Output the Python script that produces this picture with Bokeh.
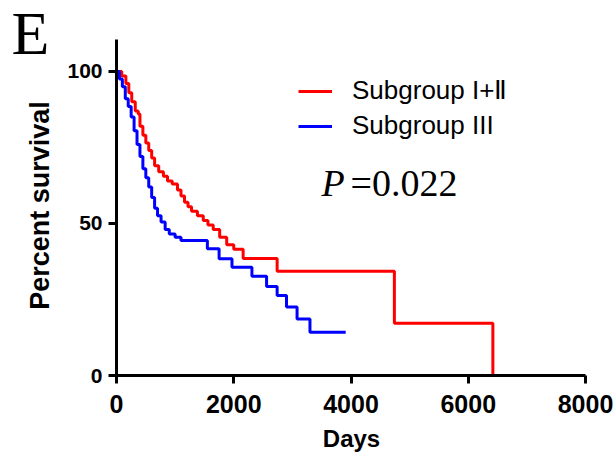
import math
from bokeh.plotting import figure
from bokeh.models import FixedTicker, Range1d, Legend, LegendItem, Label
from bokeh.embed import file_html
from bokeh.resources import INLINE

# Kaplan-Meier step data (days, percent survival)
red_days = [0, 90, 160, 210, 260, 320, 370, 400, 450, 500, 550, 600, 650, 720, 800,
            870, 950, 1040, 1100, 1160, 1220, 1280, 1380, 1480, 1560, 1650, 1760,
            1880, 2000, 2160, 2740, 4740, 6420]
red_surv = [100, 98.5, 96, 93, 90, 87, 86, 82, 79, 76.5, 74, 71.5, 69, 67, 65.5,
            64, 63, 61, 59, 57, 55.5, 54, 52.5, 51, 49.5, 48, 45.5,
            43, 41.5, 38.5, 34.3, 17.2, 0]

blue_days = [0, 50, 100, 150, 200, 250, 300, 350, 400, 450, 500, 550, 600, 650, 700,
             760, 830, 900, 1000, 1100, 1550, 1750, 1970, 2310, 2560, 2740, 2900,
             3080, 3300, 3910]
blue_surv = [100, 97.5, 95, 91, 88.5, 85, 80.5, 76, 72, 68, 65, 62, 58.5, 55, 52.5,
             50.5, 48, 46.5, 45.5, 44.4, 41.7, 38.4, 35.6, 32.6, 29.3, 26.3, 22.5,
             18.6, 14.2, 14.2]

x_ticks = [0, 2000, 4000, 6000, 8000]
y_ticks = [0, 50, 100]
series_names = ["Subgroup I+Ⅱ", "Subgroup III"]
p_italic = "P"
p_rest = "=0.022"
panel_letter = "E"
x_label = "Days"
y_label = "Percent survival"

p = figure(width=615, height=452, output_backend="svg", toolbar_location=None,
           x_range=Range1d(0, 8000), y_range=Range1d(0, 110.5),
           min_border_left=116, min_border_right=29, min_border_top=39,
           min_border_bottom=77)
p.outline_line_color = None
p.grid.visible = False
p.background_fill_color = "white"

r_red = p.step(red_days, red_surv, mode="after", line_color="#FF0000", line_width=3)
r_blue = p.step(blue_days, blue_surv, mode="after", line_color="#0000FF", line_width=3)

for ax in (p.xaxis[0], p.yaxis[0]):
    ax.axis_line_width = 3
    ax.axis_line_color = "black"
    ax.major_tick_line_width = 3
    ax.major_tick_line_color = "black"
    ax.major_tick_out = 8
    ax.major_tick_in = 0
    ax.minor_tick_line_color = None
    ax.major_label_text_font = "Liberation Sans"
    ax.major_label_text_font_style = "bold"
    ax.major_label_text_color = "black"

p.xaxis.ticker = FixedTicker(ticks=x_ticks)
p.yaxis.ticker = FixedTicker(ticks=y_ticks)
p.xaxis.major_label_text_font_size = "25px"
p.yaxis.major_label_text_font_size = "21px"
p.xaxis.major_label_standoff = 11
p.yaxis.major_label_standoff = 6
p.yaxis.major_label_orientation = "horizontal"

legend = Legend(items=[LegendItem(label=series_names[0], renderers=[r_red]),
                       LegendItem(label=series_names[1], renderers=[r_blue])],
                location=(182, 234), orientation="vertical",
                label_text_font="Liberation Sans", label_text_font_size="26px",
                label_text_color="black",
                glyph_width=34, glyph_height=30, label_height=30, label_standoff=20,
                spacing=4, padding=0, margin=0, border_line_color=None,
                background_fill_alpha=0)
p.add_layout(legend)

# P value annotation
p.add_layout(Label(x=205, y=193, x_units="screen", y_units="screen", text=p_italic,
                   text_font="Liberation Serif", text_font_style="italic",
                   text_font_size="38px", text_color="black", text_baseline="alphabetic"))
p.add_layout(Label(x=234, y=193, x_units="screen", y_units="screen", text=p_rest,
                   text_font="Liberation Serif", text_font_size="38px",
                   text_color="black", text_baseline="alphabetic"))

# panel letter (side panel, not clipped to the frame)
p.add_layout(Label(x=-15, y=343, x_units="screen", y_units="screen", text=panel_letter,
                   text_font="Liberation Serif", text_font_size="62px",
                   text_color="black", text_baseline="alphabetic"), "left")

# axis titles
p.add_layout(Label(x=235, y=4, x_units="screen", y_units="screen", text=x_label,
                   text_font="Liberation Sans", text_font_style="bold",
                   text_font_size="24px", text_color="black", text_align="center",
                   text_baseline="alphabetic"), "below")
p.add_layout(Label(x=-546, y=170, x_units="screen", y_units="screen", text=y_label,
                   angle=math.pi / 2,
                   text_font="Liberation Sans", text_font_style="bold",
                   text_font_size="27px", text_color="black", text_align="center",
                   text_baseline="alphabetic"), "right")

open("out.html", "w").write(file_html(p, INLINE))
